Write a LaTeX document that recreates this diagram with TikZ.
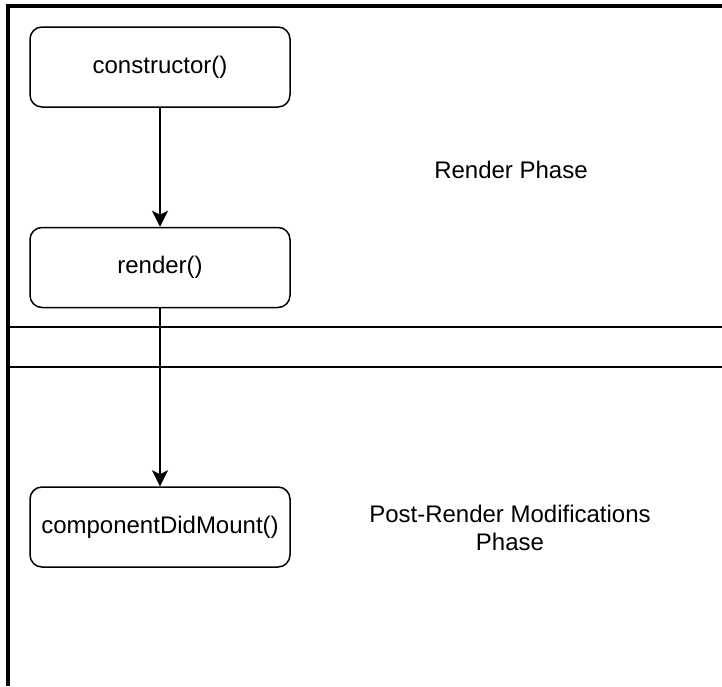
\documentclass[tikz,border=0pt]{standalone}
\usepackage{fontspec}
\setmainfont{Liberation Sans}
\usetikzlibrary{arrows.meta}
\begin{document}
\begin{tikzpicture}[x=1pt,y=-1pt,
  stage/.style={draw,line width=1.5pt,rounded corners=12pt,minimum width=260pt,minimum height=80pt,font=\fontsize{24}{27.6}\selectfont},
  label/.style={font=\fontsize{24}{27.6}\selectfont,align=center},
  flow/.style={-{Stealth[length=16pt,width=16pt,inset=4pt]},line width=1.5pt}]
\useasboundingbox (0,0) rectangle (722,686);
% frame and phase separators
\draw[line width=4pt] (8,686)--(8,6)--(722,6);
\draw[line width=1.5pt] (8,327)--(722,327);
\draw[line width=1.5pt] (8,367)--(722,367);
\node [stage,name=ctor] at (160,67){constructor()};
\node [stage,name=rend] at (160,267.5){render()};
\node [stage,name=cdm] at (160,527){componentDidMount()};
\draw[flow] (ctor)--(rend);
\draw[flow] (rend)--(cdm);
\node [label,name=rphase] at (511,170){Render Phase};
\node [label,name=pphase] at (510,528){Post-Render Modifications\\Phase};
\end{tikzpicture}
\end{document}
